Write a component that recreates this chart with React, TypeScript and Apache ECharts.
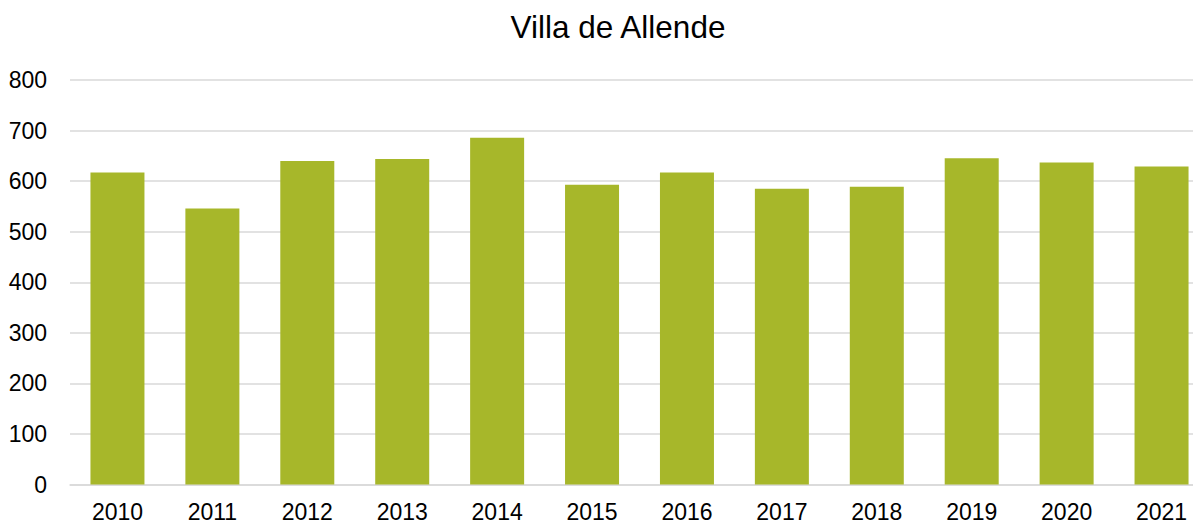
import React, { useEffect, useRef } from "react";
import * as echarts from "echarts";

const years = ["2010", "2011", "2012", "2013", "2014", "2015", "2016", "2017", "2018", "2019", "2020", "2021"];
const values = [617, 546, 640, 644, 686, 593, 617, 585, 589, 645, 637, 629];
const yTicks = { min: 0, max: 800, interval: 100 };
const title = "Villa de Allende";

export default function App() {
  const ref = useRef<HTMLDivElement>(null);
  useEffect(() => {
    const chart = echarts.init(ref.current!, null, { renderer: "svg" });
    chart.setOption({
      animation: false,
      backgroundColor: "#ffffff",
      textStyle: { fontFamily: "Liberation Sans, Arial, sans-serif" },
      title: {
        text: title,
        left: 613,
        textAlign: "center",
        top: 6,
        textStyle: { fontSize: 31.5, fontWeight: "normal", color: "#000000", fontFamily: "Liberation Sans, Arial, sans-serif" },
      },
      grid: { left: 70, right: 0, top: 80, bottom: 39.5, containLabel: false },
      xAxis: {
        type: "category",
        data: years,
        axisLine: { show: true, lineStyle: { color: "#D9D9D9", width: 1.5 } },
        axisTick: { show: false },
        axisLabel: { fontSize: 23, color: "#000000", margin: 16, fontFamily: "Liberation Sans, Arial, sans-serif" },
      },
      yAxis: {
        type: "value",
        min: yTicks.min,
        max: yTicks.max,
        interval: yTicks.interval,
        axisLine: { show: false },
        axisTick: { show: false },
        axisLabel: { fontSize: 23, color: "#000000", margin: 23, fontFamily: "Liberation Sans, Arial, sans-serif" },
        splitLine: { lineStyle: { color: "#D9D9D9", width: 1.5 } },
      },
      series: [
        {
          type: "bar",
          data: values,
          barWidth: 54,
          itemStyle: { color: "#A7B72A" },
        },
      ],
    });
    return () => chart.dispose();
  }, []);
  return (
    <div style={{ position: "fixed", left: 0, top: 0, width: 1193, height: 524, overflow: "hidden", background: "#ffffff" }}>
      <div ref={ref} style={{ width: 1209, height: 524 }} />
    </div>
  );
}
